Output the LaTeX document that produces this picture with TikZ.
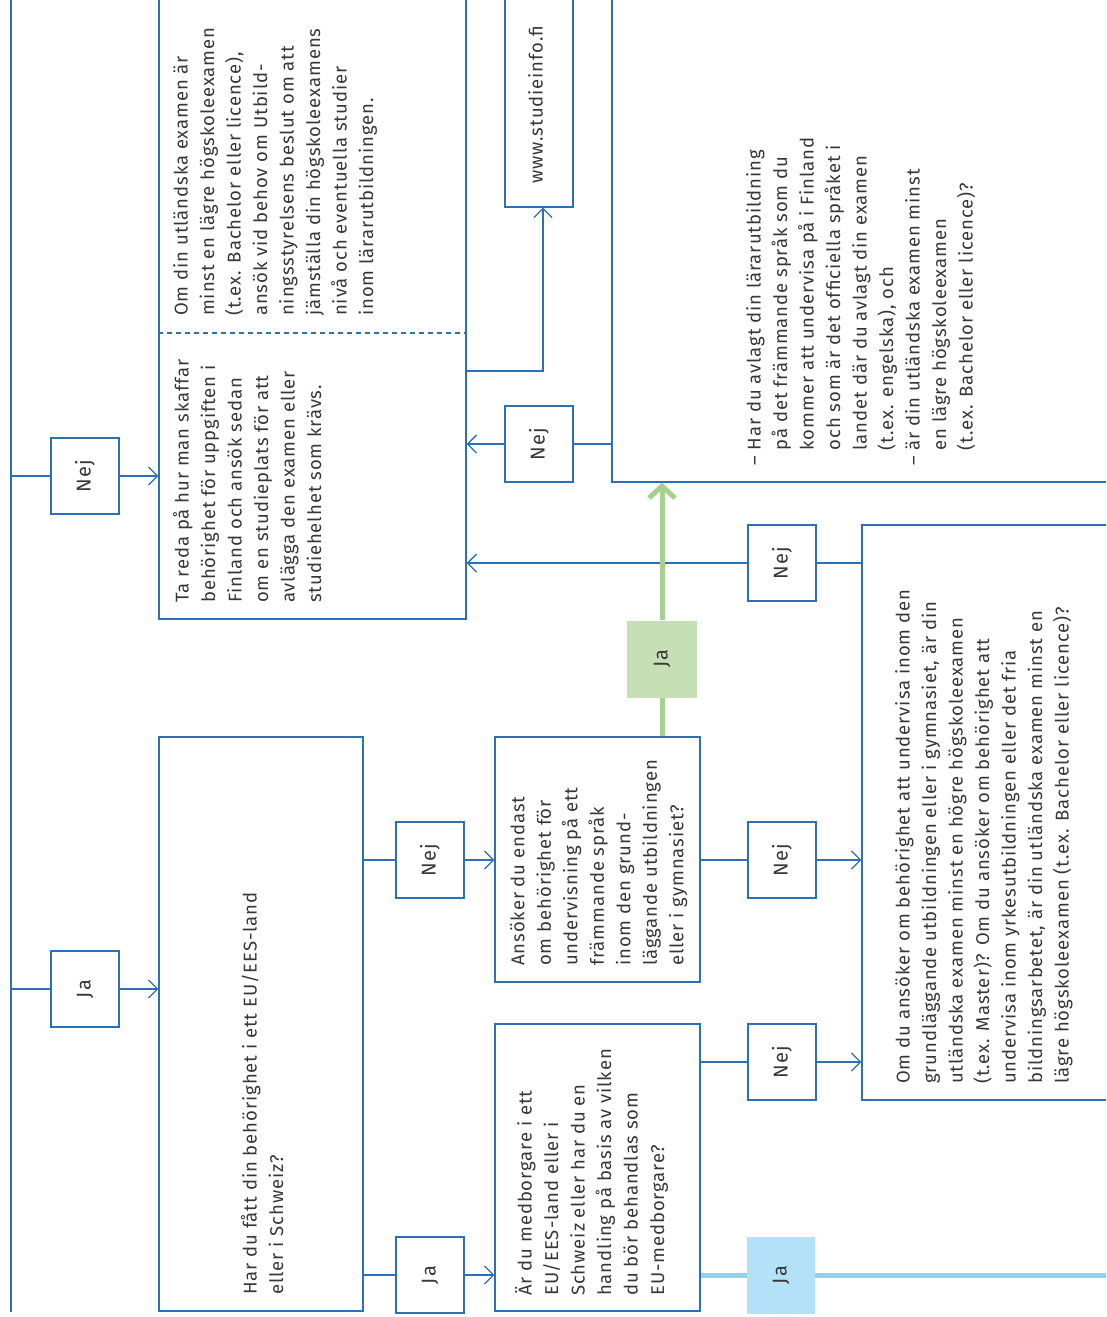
\documentclass[tikz,border=0pt]{standalone}
\usepackage{fontspec}
\setmainfont{Fira Sans}[LetterSpace=5]
\usetikzlibrary{arrows.meta}

\definecolor{fiblue}{RGB}{46,112,184}
\definecolor{txtgray}{RGB}{55,55,55}
\definecolor{gronlinje}{RGB}{168,208,141}
\definecolor{gronfyll}{RGB}{197,224,180}
\definecolor{blalinje}{RGB}{143,211,243}
\definecolor{blafyll}{RGB}{179,225,247}

\newcommand{\ind}{\phantom{–\ }}

\tikzset{
  ruta/.style={draw=fiblue, line width=1.3pt, fill=white, inner sep=0pt},
  svar/.style={ruta, minimum width=68, minimum height=76, text=txtgray, font=\fontsize{20}{24}\selectfont},
  brodtext/.style={rotate=90, anchor=north west, align=left, inner sep=0pt, text=txtgray, font=\fontsize{18.5}{26.5}\selectfont},
  linje/.style={draw=fiblue, line width=1.3pt},
  pil/.style={linje, -{Straight Barb[length=9pt, width=18pt]}},
}

\begin{document}
\begin{tikzpicture}[x=1pt, y=-1pt]
        \useasboundingbox (0,0) rectangle (1106,1317);
        \fill[white] (0,0) rectangle (1106,1317);
        \clip (0,0) rectangle (1106,1317);

        % stora rutor
        \node[ruta, minimum width=307, minimum height=639] (tabox) at (312.5,299.5) {};
        \node[ruta, minimum width=68, minimum height=227] (info) at (539,93.5) {};
        \node[ruta, minimum width=518, minimum height=502] (bigbox) at (871,231) {};
        \node[ruta, minimum width=204, minimum height=574] (hardu) at (261,1024) {};
        \node[ruta, minimum width=205, minimum height=245] (ansoker) at (597.5,859.5) {};
        \node[ruta, minimum width=205, minimum height=287] (ardu) at (597.5,1167.5) {};
        \node[ruta, minimum width=268, minimum height=575] (rightbox) at (996,812.5) {};

        \coordinate (delning) at (0,333);
        \draw[linje, dash pattern=on 5pt off 4pt] (tabox.west |- delning) -- (tabox.east |- delning);

        % texter
        \node[brodtext] (omdin) at (173,316) {Om din utländska examen är\\
            minst en lägre högskoleexamen\\
            (t.ex. Bachelor eller licence),\\
            ansök vid behov om Utbild-\\
            ningsstyrelsens beslut om att\\
            jämställa din högskoleexamens\\
            nivå och eventuella studier\\
            inom lärarutbildningen.};
        \node[brodtext] (tareda) at (173,603) {Ta reda på hur man skaffar\\
            behörighet för uppgiften i\\
            Finland och ansök sedan\\
            om en studieplats för att\\
            avlägga den examen eller\\
            studiehelhet som krävs.};
        \node[brodtext] (infotext) at (528,184) {www.studieinfo.fi};
        \node[brodtext] (villkor) at (746,466) {– Har du avlagt din lärarutbildning\\
            \ind på det främmande språk som du\\
            \ind kommer att undervisa på i Finland\\
            \ind och som är det officiella språket i\\
            \ind landet där du avlagt din examen\\
            \ind (t.ex. engelska), och\\
            – är din utländska examen minst\\
            \ind en lägre högskoleexamen\\
            \ind (t.ex. Bachelor eller licence)?};
        \node[brodtext] (hardutext) at (241,1295) {Har du fått din behörighet i ett EU/EES-land\\
            eller i Schweiz?};
        \node[brodtext] (ansokertext) at (510,966) {Ansöker du endast\\
            om behörighet för\\
            undervisning på ett\\
            främmande språk\\
            inom den grund-\\
            läggande utbildningen\\
            eller i gymnasiet?};
        \node[brodtext] (ardutext) at (515,1296) {Är du medborgare i ett\\
            EU/EES-land eller i\\
            Schweiz eller har du en\\
            handling på basis av vilken\\
            du bör behandlas som\\
            EU-medborgare?};
        \node[brodtext] (righttext) at (895,1084) {Om du ansöker om behörighet att undervisa inom den\\
            grundläggande utbildningen eller i gymnasiet, är din\\
            utländska examen minst en högre högskoleexamen\\
            (t.ex. Master)? Om du ansöker om behörighet att\\
            undervisa inom yrkesutbildningen eller det fria\\
            bildningsarbetet, är din utländska examen minst en\\
            lägre högskoleexamen (t.ex. Bachelor eller licence)?};

        % stammen till vänster
        \coordinate (stamtop) at (11,-10);
        \coordinate (stambot) at (11,1312);
        \draw[linje] (stamtop) -- (stambot);

        % svarsrutor
        \node[svar] (nej1) at (85,476) {\rotatebox{90}{Nej}};
        \node[svar] (ja1) at (85,989) {\rotatebox{90}{Ja}};
        \node[svar] (nej2) at (539,444) {\rotatebox{90}{Nej}};
        \node[svar] (nej3) at (782,563) {\rotatebox{90}{Nej}};
        \node[svar] (nej4) at (430,860) {\rotatebox{90}{Nej}};
        \node[svar] (ja2) at (430,1275) {\rotatebox{90}{Ja}};
        \node[svar] (nej5) at (782,860) {\rotatebox{90}{Nej}};
        \node[svar] (nej6) at (782,1062) {\rotatebox{90}{Nej}};

        \draw[linje] (nej1.west -| stamtop) -- (nej1.west);
        \draw[pil] (nej1.east) -- (nej1.east -| tabox.west);
        \draw[linje] (ja1.west -| stamtop) -- (ja1.west);
        \draw[pil] (ja1.east) -- (ja1.east -| hardu.west);

        \draw[linje] (bigbox.west |- nej2) -- (nej2.east);
        \draw[pil] (nej2.west) -- (nej2.west -| tabox.east);
        \coordinate (infoknut) at (543,371);
        \draw[pil] (infoknut -| tabox.east) -| (info.south -| infoknut);

        \draw[linje] (rightbox.west |- nej3) -- (nej3.east);
        \draw[pil] (nej3.west) -- (nej3.west -| tabox.east);

        \draw[linje] (hardu.east |- nej4) -- (nej4.west);
        \draw[pil] (nej4.east) -- (nej4.east -| ansoker.west);
        \draw[linje] (hardu.east |- ja2) -- (ja2.west);
        \draw[pil] (ja2.east) -- (ja2.east -| ardu.west);

        \draw[linje] (ansoker.east |- nej5) -- (nej5.west);
        \draw[pil] (nej5.east) -- (nej5.east -| rightbox.west);
        \draw[linje] (ardu.east |- nej6) -- (nej6.west);
        \draw[pil] (nej6.east) -- (nej6.east -| rightbox.west);

        % gröna och blåa ja-vägar
        \node[fill=gronfyll, minimum width=70, minimum height=77, text=txtgray, font=\fontsize{20}{24}\selectfont] (jagron) at (662,659) {\rotatebox{90}{Ja}};
        \draw[draw=gronlinje, line width=5pt] (jagron |- ansoker.north) -- (jagron.south);
        \draw[draw=gronlinje, line width=5pt, -{Straight Barb[length=12pt, width=26pt]}] (jagron.north) -- (jagron.north |- bigbox.south);

        \node[fill=blafyll, minimum width=68, minimum height=77, text=txtgray, font=\fontsize{20}{24}\selectfont] (jabla) at (781,1275) {\rotatebox{90}{Ja}};
        \coordinate (blaslut) at (1110,1275);
        \draw[draw=blalinje, line width=5pt] (ardu.east |- jabla) -- (jabla.west);
        \draw[draw=blalinje, line width=5pt] (jabla.east) -- (blaslut);
    \end{tikzpicture}
\end{document}
